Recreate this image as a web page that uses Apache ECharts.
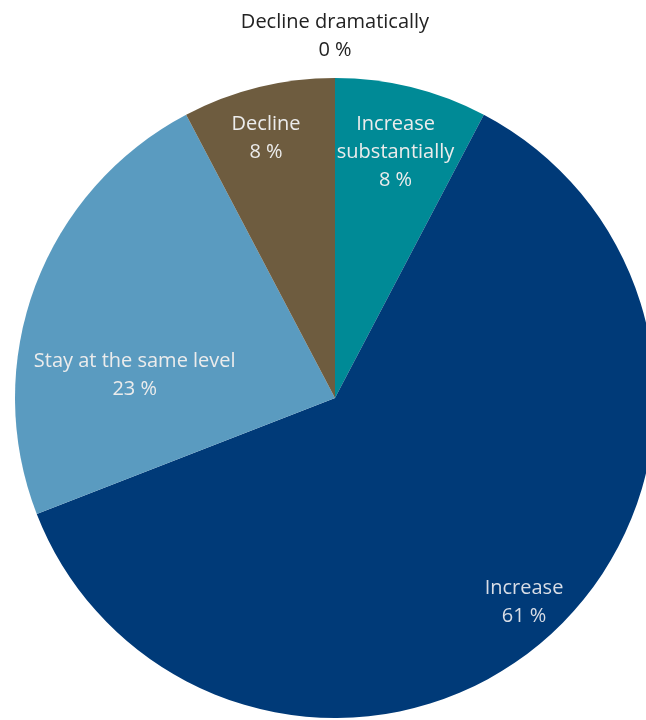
<!DOCTYPE html>
<html>
<head>
<meta charset="utf-8">
<script src="https://cdn.jsdelivr.net/npm/echarts@6/dist/echarts.min.js"></script>
<style>
  html, body { margin: 0; padding: 0; background: #fff; }
  #chart { width: 646px; height: 720px; }
</style>
</head>
<body>
<div id="chart"></div>
<script>
// -- Data (clockwise from 12 o'clock) --
const categories = ['Increase\nsubstantially', 'Increase', 'Stay at the same level', 'Decline', 'Decline dramatically'];
const shares = [7.7, 61.4, 23.2, 7.7, 0.0];

// -- Styling --
const SLICE_COLORS = ['#008a96', '#003a78', '#5a9bc0', '#6e5c3f', '#6e5c3f'];
const LABEL_COLORS = ['#ececec', '#d8dde6', '#ececec', '#ececec', '#222222'];

const CX = 335, CY = 398, R = 320;
// label placement: fraction of radius, and angle nudge (deg) off the slice middle
const LABEL_RADIUS = [0.79, 0.87, 0.63, 0.84, 1.13];
const LABEL_NUDGE = [0, -1, -14, -1, 0];

// mid angle of every slice, clockwise from the top, in degrees
const total = shares.reduce((s, v) => s + v, 0);
const midAngles = [];
let acc = 0;
shares.forEach(v => {
  midAngles.push((acc + v / 2) / total * 360);
  acc += v;
});

const chart = echarts.init(document.getElementById('chart'), null, { renderer: 'canvas' });

chart.setOption({
  animation: false,
  series: [{
    type: 'pie',
    center: [CX, CY],
    radius: R,
    startAngle: 90,
    clockwise: true,
    silent: true,
    label: {
      show: true,
      position: 'inside',
      fontFamily: '"Open Sans", sans-serif',
      fontSize: 20,
      lineHeight: 28,
      align: 'center',
      formatter: p => p.name + '\n' + Math.round(p.value) + ' %'
    },
    labelLine: { show: false },
    emphasis: { disabled: true },
    itemStyle: { borderWidth: 0 },
    data: categories.map((name, i) => ({
      name,
      value: shares[i],
      itemStyle: { color: SLICE_COLORS[i] },
      label: { color: LABEL_COLORS[i] }
    })),
    labelLayout: params => {
      const i = params.dataIndex;
      const a = (midAngles[i] + LABEL_NUDGE[i]) * Math.PI / 180;
      const r = R * LABEL_RADIUS[i];
      return {
        x: CX + r * Math.sin(a),
        y: CY - r * Math.cos(a),
        align: 'center',
        verticalAlign: 'middle'
      };
    }
  }]
});
</script>
</body>
</html>
